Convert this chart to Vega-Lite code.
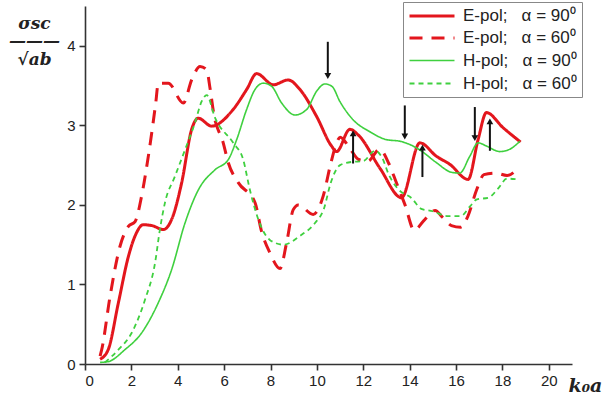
{
  "$schema": "https://vega.github.io/schema/vega-lite/v6.json",
  "autosize": {"type": "none"},
  "padding": {"left": 85, "top": 6, "right": 38, "bottom": 38},
  "width": 487,
  "height": 358,
  "background": "white",
  "config": {
    "view": {"stroke": null},
    "font": "Liberation Sans"
  },
  "datasets": {
    "curves": [
      {"s": "E90", "x": 0.65, "y": 0.06}, {"s": "E90", "x": 1.0, "y": 0.18}, {"s": "E90", "x": 1.44, "y": 0.77}, {"s": "E90", "x": 1.87, "y": 1.35}, {"s": "E90", "x": 2.16, "y": 1.61}, {"s": "E90", "x": 2.51, "y": 1.75}, {"s": "E90", "x": 2.88, "y": 1.74}, {"s": "E90", "x": 3.38, "y": 1.69}, {"s": "E90", "x": 3.74, "y": 1.82}, {"s": "E90", "x": 4.17, "y": 2.28}, {"s": "E90", "x": 4.6, "y": 2.95}, {"s": "E90", "x": 4.88, "y": 3.09}, {"s": "E90", "x": 5.46, "y": 2.99}, {"s": "E90", "x": 6.39, "y": 3.2}, {"s": "E90", "x": 6.97, "y": 3.45}, {"s": "E90", "x": 7.4, "y": 3.65}, {"s": "E90", "x": 8.12, "y": 3.51}, {"s": "E90", "x": 8.76, "y": 3.57}, {"s": "E90", "x": 9.27, "y": 3.45}, {"s": "E90", "x": 9.99, "y": 3.11}, {"s": "E90", "x": 10.63, "y": 2.74}, {"s": "E90", "x": 10.85, "y": 2.67}, {"s": "E90", "x": 11.42, "y": 2.95}, {"s": "E90", "x": 11.78, "y": 2.88}, {"s": "E90", "x": 12.72, "y": 2.46}, {"s": "E90", "x": 13.65, "y": 2.09}, {"s": "E90", "x": 14.44, "y": 2.78}, {"s": "E90", "x": 15.16, "y": 2.61}, {"s": "E90", "x": 15.73, "y": 2.51}, {"s": "E90", "x": 16.52, "y": 2.32}, {"s": "E90", "x": 16.95, "y": 2.82}, {"s": "E90", "x": 17.31, "y": 3.16}, {"s": "E90", "x": 18.03, "y": 2.97}, {"s": "E90", "x": 18.78, "y": 2.79},
      {"s": "E60", "x": 0.65, "y": 0.1}, {"s": "E60", "x": 0.72, "y": 0.18}, {"s": "E60", "x": 1.08, "y": 0.85}, {"s": "E60", "x": 1.51, "y": 1.48}, {"s": "E60", "x": 1.87, "y": 1.73}, {"s": "E60", "x": 2.16, "y": 1.79}, {"s": "E60", "x": 2.44, "y": 2.11}, {"s": "E60", "x": 2.73, "y": 2.61}, {"s": "E60", "x": 3.05, "y": 3.28}, {"s": "E60", "x": 3.16, "y": 3.53}, {"s": "E60", "x": 3.59, "y": 3.53}, {"s": "E60", "x": 4.24, "y": 3.28}, {"s": "E60", "x": 4.6, "y": 3.57}, {"s": "E60", "x": 4.96, "y": 3.74}, {"s": "E60", "x": 5.24, "y": 3.7}, {"s": "E60", "x": 5.4, "y": 3.45}, {"s": "E60", "x": 5.55, "y": 3.15}, {"s": "E60", "x": 5.96, "y": 2.78}, {"s": "E60", "x": 6.18, "y": 2.53}, {"s": "E60", "x": 6.61, "y": 2.28}, {"s": "E60", "x": 7.33, "y": 2.03}, {"s": "E60", "x": 7.61, "y": 1.67}, {"s": "E60", "x": 7.97, "y": 1.4}, {"s": "E60", "x": 8.41, "y": 1.2}, {"s": "E60", "x": 8.69, "y": 1.52}, {"s": "E60", "x": 8.98, "y": 1.94}, {"s": "E60", "x": 9.2, "y": 2.0}, {"s": "E60", "x": 9.84, "y": 1.88}, {"s": "E60", "x": 10.27, "y": 2.11}, {"s": "E60", "x": 10.59, "y": 2.51}, {"s": "E60", "x": 10.85, "y": 2.78}, {"s": "E60", "x": 11.0, "y": 2.85}, {"s": "E60", "x": 11.4, "y": 2.72}, {"s": "E60", "x": 11.8, "y": 2.57}, {"s": "E60", "x": 12.2, "y": 2.55}, {"s": "E60", "x": 12.7, "y": 2.7}, {"s": "E60", "x": 13.1, "y": 2.52}, {"s": "E60", "x": 13.4, "y": 2.3}, {"s": "E60", "x": 13.8, "y": 2.0}, {"s": "E60", "x": 14.2, "y": 1.68}, {"s": "E60", "x": 14.6, "y": 1.8}, {"s": "E60", "x": 15.1, "y": 1.93}, {"s": "E60", "x": 15.4, "y": 1.85}, {"s": "E60", "x": 15.8, "y": 1.74}, {"s": "E60", "x": 16.2, "y": 1.72}, {"s": "E60", "x": 16.5, "y": 1.85}, {"s": "E60", "x": 16.9, "y": 2.2}, {"s": "E60", "x": 17.2, "y": 2.38}, {"s": "E60", "x": 17.7, "y": 2.4}, {"s": "E60", "x": 18.2, "y": 2.37}, {"s": "E60", "x": 18.7, "y": 2.47},
      {"s": "H90", "x": 0.65, "y": 0.02}, {"s": "H90", "x": 1.0, "y": 0.03}, {"s": "H90", "x": 1.72, "y": 0.18}, {"s": "H90", "x": 2.44, "y": 0.39}, {"s": "H90", "x": 3.16, "y": 0.77}, {"s": "H90", "x": 3.74, "y": 1.19}, {"s": "H90", "x": 4.31, "y": 1.77}, {"s": "H90", "x": 4.89, "y": 2.19}, {"s": "H90", "x": 5.6, "y": 2.44}, {"s": "H90", "x": 6.18, "y": 2.57}, {"s": "H90", "x": 6.54, "y": 2.82}, {"s": "H90", "x": 6.97, "y": 3.2}, {"s": "H90", "x": 7.33, "y": 3.45}, {"s": "H90", "x": 7.69, "y": 3.53}, {"s": "H90", "x": 8.05, "y": 3.49}, {"s": "H90", "x": 8.48, "y": 3.28}, {"s": "H90", "x": 9.05, "y": 3.13}, {"s": "H90", "x": 9.56, "y": 3.2}, {"s": "H90", "x": 9.99, "y": 3.43}, {"s": "H90", "x": 10.34, "y": 3.52}, {"s": "H90", "x": 10.65, "y": 3.49}, {"s": "H90", "x": 10.99, "y": 3.3}, {"s": "H90", "x": 11.56, "y": 3.07}, {"s": "H90", "x": 12.28, "y": 2.92}, {"s": "H90", "x": 13.0, "y": 2.82}, {"s": "H90", "x": 13.58, "y": 2.8}, {"s": "H90", "x": 14.0, "y": 2.76}, {"s": "H90", "x": 14.44, "y": 2.69}, {"s": "H90", "x": 15.16, "y": 2.53}, {"s": "H90", "x": 15.8, "y": 2.41}, {"s": "H90", "x": 16.16, "y": 2.4}, {"s": "H90", "x": 16.59, "y": 2.61}, {"s": "H90", "x": 16.95, "y": 2.78}, {"s": "H90", "x": 17.31, "y": 2.74}, {"s": "H90", "x": 17.89, "y": 2.67}, {"s": "H90", "x": 18.32, "y": 2.7}, {"s": "H90", "x": 18.75, "y": 2.8},
      {"s": "H60", "x": 0.86, "y": 0.02}, {"s": "H60", "x": 1.44, "y": 0.18}, {"s": "H60", "x": 2.01, "y": 0.39}, {"s": "H60", "x": 2.59, "y": 0.81}, {"s": "H60", "x": 3.02, "y": 1.27}, {"s": "H60", "x": 3.23, "y": 1.69}, {"s": "H60", "x": 3.45, "y": 2.03}, {"s": "H60", "x": 3.88, "y": 2.36}, {"s": "H60", "x": 4.31, "y": 2.69}, {"s": "H60", "x": 4.74, "y": 3.03}, {"s": "H60", "x": 5.03, "y": 3.3}, {"s": "H60", "x": 5.25, "y": 3.38}, {"s": "H60", "x": 5.6, "y": 3.1}, {"s": "H60", "x": 6.39, "y": 2.78}, {"s": "H60", "x": 6.82, "y": 2.57}, {"s": "H60", "x": 7.11, "y": 2.19}, {"s": "H60", "x": 7.47, "y": 1.82}, {"s": "H60", "x": 7.97, "y": 1.56}, {"s": "H60", "x": 8.55, "y": 1.5}, {"s": "H60", "x": 9.27, "y": 1.61}, {"s": "H60", "x": 9.91, "y": 1.77}, {"s": "H60", "x": 10.3, "y": 1.95}, {"s": "H60", "x": 10.6, "y": 2.28}, {"s": "H60", "x": 11.0, "y": 2.5}, {"s": "H60", "x": 11.5, "y": 2.54}, {"s": "H60", "x": 12.0, "y": 2.55}, {"s": "H60", "x": 12.5, "y": 2.68}, {"s": "H60", "x": 12.8, "y": 2.6}, {"s": "H60", "x": 13.1, "y": 2.38}, {"s": "H60", "x": 13.5, "y": 2.2}, {"s": "H60", "x": 14.1, "y": 2.08}, {"s": "H60", "x": 14.5, "y": 1.95}, {"s": "H60", "x": 15.0, "y": 1.92}, {"s": "H60", "x": 15.6, "y": 1.86}, {"s": "H60", "x": 16.2, "y": 1.86}, {"s": "H60", "x": 16.6, "y": 1.98}, {"s": "H60", "x": 16.9, "y": 2.07}, {"s": "H60", "x": 17.4, "y": 2.09}, {"s": "H60", "x": 17.8, "y": 2.2}, {"s": "H60", "x": 18.2, "y": 2.33}, {"s": "H60", "x": 18.7, "y": 2.32}
    ],
    "arrows": [
      {"x": 10.47, "y1": 4.05, "y2": 3.62, "dir": "down"},
      {"x": 13.79, "y1": 3.25, "y2": 2.86, "dir": "down"},
      {"x": 16.81, "y1": 3.23, "y2": 2.84, "dir": "down"},
      {"x": 11.56, "y1": 2.52, "y2": 2.9, "dir": "up"},
      {"x": 14.55, "y1": 2.35, "y2": 2.72, "dir": "up"},
      {"x": 17.46, "y1": 2.68, "y2": 3.05, "dir": "up"}
    ]
  },
  "layer": [
    {
      "data": {"name": "curves"},
      "mark": {"type": "line", "interpolate": "monotone"},
      "encoding": {
        "x": {
          "field": "x", "type": "quantitative",
          "scale": {"domain": [0, 21], "nice": false, "zero": false},
          "axis": {
            "values": [0,1,2,3,4,5,6,7,8,9,10,11,12,13,14,15,16,17,18,19,20,21],
            "labelExpr": "datum.value % 2 === 0 && datum.value <= 20 ? datum.label : ''",
            "grid": false,
            "domainColor": "#333", "domainWidth": 1.6,
            "tickColor": "#333", "tickWidth": 1.6,
            "tickSize": {"condition": {"test": "datum.value % 2 !== 0", "value": 3}, "value": 6},
            "labelFontSize": 15, "labelColor": "#222", "labelPadding": 3,
            "labelFont": "Liberation Sans",
            "title": "k₀a",
            "titleFont": "DejaVu Serif", "titleFontStyle": "italic", "titleFontWeight": "bold",
            "titleFontSize": 19, "titleColor": "#222",
            "titleX": 500, "titleY": 27, "titleAlign": "center", "titleBaseline": "alphabetic"
          }
        },
        "y": {
          "field": "y", "type": "quantitative",
          "scale": {"domain": [0, 4.5], "nice": false},
          "axis": {
            "values": [0,0.5,1,1.5,2,2.5,3,3.5,4,4.5],
            "format": "d",
            "labelExpr": "datum.value % 1 === 0 ? datum.label : ''",
            "grid": false,
            "domainColor": "#333", "domainWidth": 1.6,
            "tickColor": "#333", "tickWidth": 1.6,
            "tickSize": {"condition": {"test": "datum.value % 1 !== 0", "value": 3}, "value": 6},
            "labelFontSize": 15, "labelColor": "#222", "labelPadding": 4,
            "labelFont": "Liberation Sans",
            "title": ["σsc", "———", "√ab"],
            "titleFont": "DejaVu Serif", "titleFontStyle": "italic", "titleFontWeight": "bold",
            "titleFontSize": 17, "titleColor": "#222", "titleAngle": 0,
            "titleLineHeight": 18,
            "titleX": -51, "titleY": 9, "titleAlign": "center", "titleBaseline": "top"
          }
        },
        "detail": {"field": "s"},
        "color": {
          "field": "s", "type": "nominal",
          "scale": {
            "domain": ["E90", "E60", "H90", "H60"],
            "range": ["#e3161d", "#e3161d", "#3fd03f", "#3fd03f"]
          },
          "legend": {
            "title": null, "orient": "none", "legendX": 318, "legendY": -4,
            "strokeColor": "#888", "fillColor": "white", "padding": 5,
            "symbolType": "M-1,0H5", "symbolSize": 225,
            "labelFontSize": 17, "labelFont": "Liberation Sans", "labelColor": "#222",
            "rowPadding": 5, "labelLimit": 300, "labelOffset": 37,
            "labelExpr": "(slice(datum.value, 0, 1) === 'E' ? 'E-pol;' : 'H-pol;') + '\u00a0\u00a0 α = ' + slice(datum.value, 1) + '⁰'"
          }
        },
        "strokeDash": {
          "field": "s", "type": "nominal",
          "scale": {
            "domain": ["E90", "E60", "H90", "H60"],
            "range": [[1, 0], [13, 9], [1, 0], [5, 4]]
          },
          "legend": null
        },
        "strokeWidth": {
          "field": "s", "type": "nominal",
          "scale": {
            "type": "ordinal",
            "domain": ["E90", "E60", "H90", "H60"],
            "range": [3, 3, 1.6, 1.8]
          },
          "legend": null
        }
      }
    },
    {
      "data": {"name": "arrows"},
      "mark": {"type": "rule", "color": "#111", "strokeWidth": 2},
      "encoding": {
        "x": {"field": "x", "type": "quantitative"},
        "y": {"field": "y1", "type": "quantitative"},
        "y2": {"field": "y2"}
      }
    },
    {
      "data": {"name": "arrows"},
      "mark": {"type": "point", "filled": true, "color": "#111", "opacity": 1, "size": 45},
      "encoding": {
        "x": {"field": "x", "type": "quantitative"},
        "y": {"field": "y2", "type": "quantitative"},
        "shape": {
          "field": "dir", "type": "nominal",
          "scale": {"domain": ["down", "up"], "range": ["triangle-down", "triangle-up"]},
          "legend": null
        }
      }
    }
  ]
}
